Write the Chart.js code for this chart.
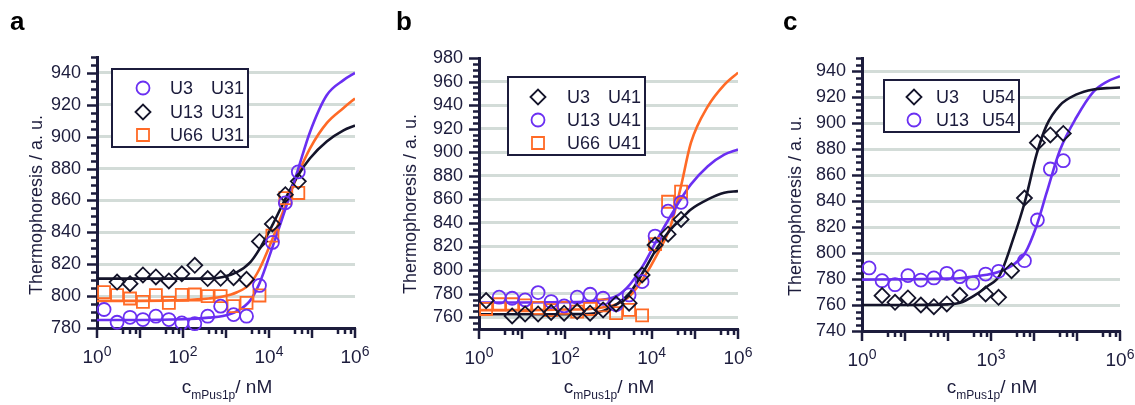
<!DOCTYPE html>
<html>
<head>
<meta charset="utf-8">
<script src="https://cdn.jsdelivr.net/npm/chart.js@4.4.1/dist/chart.umd.min.js"></script>
<style>
  body { margin: 0; background: #fff; font-family: 'Liberation Sans', Arial, sans-serif; color: #1c1c3c; }
  #wrap { position: relative; width: 1135px; height: 405px; overflow: hidden; }
  canvas { position: absolute; top: 0; }
  .panel { position: absolute; font-weight: bold; font-size: 26px; line-height: 30px; color: #000; }
  .ytitle { position: absolute; width: 260px; height: 22px; line-height: 22px; text-align: center;
            font-size: 18px; transform: rotate(-90deg); white-space: nowrap; }
  .xtitle { position: absolute; width: 200px; text-align: center; font-size: 19px; line-height: 22px; white-space: nowrap; }
  .xtitle sub { font-size: 12px; position: relative; top: 6px; vertical-align: baseline; }
</style>
</head>
<body>
<div id="wrap">
  <canvas id="ca" width="380" height="405" style="left:0"></canvas>
  <canvas id="cb" width="380" height="405" style="left:380px"></canvas>
  <canvas id="cc" width="375" height="405" style="left:760px"></canvas>

  <div class="panel" style="left:10px;top:6px">a</div>
  <div class="panel" style="left:396px;top:6px">b</div>
  <div class="panel" style="left:783px;top:6px">c</div>

  <div class="ytitle" style="left:-94px;top:194px">Thermophoresis / a. u.</div>
  <div class="ytitle" style="left:280px;top:193px">Thermophoresis / a. u.</div>
  <div class="ytitle" style="left:665px;top:195px">Thermophoresis / a. u.</div>

  <div class="xtitle" style="left:127px;top:376px">c<sub>mPus1p</sub>/ nM</div>
  <div class="xtitle" style="left:509px;top:376px">c<sub>mPus1p</sub>/ nM</div>
  <div class="xtitle" style="left:892px;top:376px">c<sub>mPus1p</sub>/ nM</div>
</div>

<script>
// titration concentrations of mPus1p (nM), 1:1 serial dilution
const conc = [1.46, 2.93, 5.86, 11.7, 23.4, 46.9, 93.8, 188, 375, 750, 1500, 3000, 6000, 12000, 24000, 48000];

// panel a: U31 substrates
const aU3  = [791.6, 783.6, 786.7, 785.3, 787.4, 785.3, 783.2, 782.7, 787.4, 793.7, 788.4, 787.4, 806.7, 833.7, 858.5, 878];
const aU13 = [null, 808.8, 807.8, 813.3, 812.0, 809.5, 814.0, 819.3, 811.0, 811.2, 811.6, 810.5, 834.3, 845.3, 863.6, 872];
const aU66 = [802.5, 800.6, 798.5, 796.4, 800.6, 795.8, 800.8, 801.0, 800, 800, 793.7, 795.8, 800.4, 838, 861.5, 864.7];

// panel b: U41 substrates
const bU3  = [774.1, null, 761.1, 762.8, 762.8, 764, 763.4, 764.8, 763.4, 766.2, 771.3, 771.9, 795.9, 821.3, 830.5, 843];
const bU13 = [null, 777, 776.1, 774.7, 780.9, 773.3, 769.6, 777, 779.5, 776.1, 770.5, 778.9, 790.2, 828.9, 850, 857.5];
const bU66 = [767, 771, 771, 770, 768, 766, 768, 764.8, 767, 770, 763.4, 766.2, 761.5, 822, 858, 866.5];

// panel c: U54 substrates
const cU3  = [null, 767.2, 762.1, 765.4, 760, 758.7, 760.8, 767.5, null, 768.5, 765.9, 786.4, 842.3, 884.9, 890.8, 892];
const cU13 = [788.5, 778.7, 775.6, 782.6, 779.2, 780.8, 784.4, 781.8, 776.9, 783.8, 785.9, null, 794.1, 825.4, 864.6, 871];

// fitted binding curves, sampled along the concentration axis
const fitXa = [1, 10, 100, 400, 850, 1800, 3600, 6000, 12500, 25000, 48000, 90000, 220000, 540000, 1000000];
const fitAU3  = [785, 785, 785.5, 786.5, 787.5, 790.6, 797, 808, 832, 856, 880, 903, 926, 935.5, 940];
const fitAU13 = [811, 811, 811, 811, 812, 815, 821, 829.5, 845.5, 862, 876, 886.5, 897, 904, 907];
const fitAU66 = [797, 797, 797.5, 798.5, 799.7, 802.4, 807.6, 817, 837, 858, 877, 892.7, 908.5, 918, 924];

const fitXb = [1, 10, 100, 380, 780, 1600, 3200, 6600, 13500, 27500, 47000, 81000, 200000, 480000, 1000000];
const fitBU3  = [762.5, 762.5, 762.6, 763, 765.6, 771.3, 781.1, 799.4, 819.1, 834.6, 843, 851.5, 860, 865.6, 867];
const fitBU13 = [772.5, 772.5, 772.8, 773.2, 775, 778.3, 788.2, 805, 826.2, 845.9, 860, 872.7, 888.2, 898, 902.3];
const fitBU66 = [766, 766, 766.5, 767, 768.5, 771.3, 778.3, 793.8, 813.5, 837.5, 870, 907.9, 938.9, 957.2, 967.6];

const fitXc = [1, 10, 100, 190, 390, 800, 1600, 3300, 6200, 11500, 19500, 40000, 98000, 240000, 490000, 1000000];
const fitCU3  = [760, 760, 760.5, 761.7, 766.9, 774.1, 783, 811, 840, 876, 898, 913.6, 922, 925.8, 926.8, 927.3];
const fitCU13 = [779.5, 779.8, 780.3, 780.6, 781.9, 783.2, 785.7, 791, 800, 821, 846, 879, 904.6, 924, 931.7, 936];

// axis labelling
const xExpAB = [0, 2, 4, 6];
const xExpC = [0, 3, 6];
const xMinorSteps = [4, 6, 8];

const ink = '#1c1c3c';
const purple = '#6a2ff2';
const orange = '#ff6a26';
const black = '#14142a';
const gridGrey = '#d3dcd8';
const font = "'Liberation Sans', Arial, sans-serif";

Chart.defaults.font.family = font;
Chart.defaults.color = ink;

const markerSize = { circle: 6.5, rectRot: 7.5, rect: 8.5 };

function drawMarker(ctx, style, x, y, r) {
  ctx.beginPath();
  if (style === 'circle') {
    ctx.arc(x, y, r, 0, Math.PI * 2);
  } else if (style === 'rectRot') {
    ctx.moveTo(x - r, y); ctx.lineTo(x, y - r); ctx.lineTo(x + r, y); ctx.lineTo(x, y + r); ctx.closePath();
  } else {
    const s = r * Math.SQRT1_2;
    ctx.rect(x - s, y - s, 2 * s, 2 * s);
  }
  ctx.stroke();
}

// tick marks, superscripted decade labels and the boxed legend
const decor = {
  id: 'decor',
  afterDraw(chart, args, opts) {
    const { ctx, chartArea: area, scales: { x, y } } = chart;
    ctx.save();
    ctx.strokeStyle = ink;
    ctx.lineWidth = 2.5;
    ctx.beginPath();
    for (let v = y.min; v <= y.max + 0.01; v += 5) {
      const py = Math.round(y.getPixelForValue(v)) + 0.5;
      const len = v % 20 === 0 ? 10 : 6;
      ctx.moveTo(area.left - len, py); ctx.lineTo(area.left, py);
    }
    for (let e = 0; e <= 6; e++) {
      const px = Math.round(x.getPixelForValue(Math.pow(10, e)));
      ctx.moveTo(px, area.bottom); ctx.lineTo(px, area.bottom + 10);
      if (e < 6) {
        xMinorSteps.forEach(k => {
          const pm = Math.round(x.getPixelForValue(k * Math.pow(10, e)));
          ctx.moveTo(pm, area.bottom); ctx.lineTo(pm, area.bottom + 6);
        });
      }
    }
    ctx.stroke();

    // decade labels: 10 with a raised exponent
    ctx.fillStyle = ink;
    ctx.textBaseline = 'alphabetic';
    ctx.textAlign = 'left';
    opts.xExp.forEach(e => {
      const px = x.getPixelForValue(Math.pow(10, e));
      ctx.font = '19px ' + font;
      const wBase = ctx.measureText('10').width;
      ctx.font = '14px ' + font;
      const wExp = ctx.measureText(String(e)).width;
      const left = px - (wBase + wExp) / 2;
      ctx.font = '19px ' + font;
      ctx.fillText('10', left, area.bottom + 35);
      ctx.font = '14px ' + font;
      ctx.fillText(String(e), left + wBase, area.bottom + 28);
    });

    // legend
    const lg = opts.legend;
    const [bx, by, bw, bh] = lg.box;
    ctx.fillStyle = '#fff';
    ctx.fillRect(bx, by, bw, bh);
    ctx.lineWidth = 2;
    ctx.strokeStyle = ink;
    ctx.strokeRect(bx, by, bw, bh);
    ctx.font = '18px ' + font;
    ctx.textBaseline = 'middle';
    const marks = chart.data.datasets.filter(d => !d.showLine);
    marks.forEach((d, i) => {
      const ry = lg.rows[i];
      ctx.strokeStyle = d.borderColor;
      ctx.lineWidth = 1.8;
      drawMarker(ctx, d.pointStyle, lg.markerX, ry, d.pointRadius);
      const parts = d.label.split(' ');
      ctx.fillStyle = ink;
      ctx.fillText(parts[0], lg.textX[0], ry + 1);
      ctx.fillText(parts[1], lg.textX[1], ry + 1);
    });
    ctx.restore();
  }
};

function pointsOf(xs, ys) {
  return xs.map((v, i) => ({ x: v, y: ys[i] })).filter(p => p.y !== null);
}

function makePanel(p) {
  const datasets = [];
  p.series.forEach(s => {
    datasets.push({
      label: s.label,
      data: pointsOf(conc, s.vals),
      showLine: false,
      pointStyle: s.style,
      pointRadius: markerSize[s.style],
      pointHoverRadius: markerSize[s.style],
      borderColor: s.color,
      backgroundColor: 'rgba(0,0,0,0)',
      pointBorderWidth: 1.8,
      clip: false
    });
  });
  p.series.forEach(s => {
    datasets.push({
      label: s.label + ' fit',
      data: pointsOf(s.fitX, s.fit),
      showLine: true,
      pointRadius: 0,
      borderColor: s.color,
      borderWidth: 2.6,
      cubicInterpolationMode: 'monotone'
    });
  });

  new Chart(document.getElementById(p.id), {
    type: 'scatter',
    data: { datasets },
    options: {
      responsive: false,
      animation: false,
      layout: { padding: { top: p.top, right: p.right, left: 0, bottom: 0 } },
      scales: {
        x: {
          type: 'logarithmic',
          min: 1,
          max: 1000000,
          ticks: { display: false },
          grid: { display: false, drawTicks: false },
          border: { color: ink, width: 3 },
          afterFit: sc => { sc.height = p.xHeight; }
        },
        y: {
          min: p.yMin,
          max: p.yMax,
          ticks: { stepSize: 20, includeBounds: false, padding: 16, font: { size: 18 }, color: ink },
          grid: {
            drawTicks: false,
            lineWidth: 3,
            color: c => (c.tick && (c.tick.value === p.yMin || c.tick.value === p.noGrid)) ? 'rgba(0,0,0,0)' : gridGrey
          },
          border: { color: ink, width: 3 },
          afterFit: sc => { sc.width = p.yWidth; }
        }
      },
      plugins: {
        legend: { display: false },
        tooltip: { enabled: false },
        decor: { xExp: p.xExp, legend: p.legend }
      }
    },
    plugins: [decor]
  });
}

makePanel({
  id: 'ca', yMin: 780, yMax: 950, noGrid: null, xExp: xExpAB,
  yWidth: 97, xHeight: 77, top: 57, right: 25,
  series: [
    { label: 'U3 U31', vals: aU3, fitX: fitXa, fit: fitAU3, color: purple, style: 'circle' },
    { label: 'U13 U31', vals: aU13, fitX: fitXa, fit: fitAU13, color: black, style: 'rectRot' },
    { label: 'U66 U31', vals: aU66, fitX: fitXa, fit: fitAU66, color: orange, style: 'rect' }
  ],
  legend: { box: [112, 69, 136, 78], markerX: 143, textX: [170, 211], rows: [88, 112, 135] }
});

makePanel({
  id: 'cb', yMin: 750, yMax: 980, noGrid: 980, xExp: xExpAB,
  yWidth: 99, xHeight: 76, top: 58, right: 22,
  series: [
    { label: 'U3 U41', vals: bU3, fitX: fitXb, fit: fitBU3, color: black, style: 'rectRot' },
    { label: 'U13 U41', vals: bU13, fitX: fitXb, fit: fitBU13, color: purple, style: 'circle' },
    { label: 'U66 U41', vals: bU66, fitX: fitXb, fit: fitBU66, color: orange, style: 'rect' }
  ],
  legend: { box: [128, 77, 137, 78], markerX: 158, textX: [187, 228], rows: [97, 120, 143] }
});

makePanel({
  id: 'cc', yMin: 740, yMax: 950, noGrid: null, xExp: xExpC,
  yWidth: 102, xHeight: 74, top: 58, right: 15,
  series: [
    { label: 'U3 U54', vals: cU3, fitX: fitXc, fit: fitCU3, color: black, style: 'rectRot' },
    { label: 'U13 U54', vals: cU13, fitX: fitXc, fit: fitCU13, color: purple, style: 'circle' }
  ],
  legend: { box: [124, 80, 135, 52], markerX: 154, textX: [176, 222], rows: [97, 120] }
});
</script>
</body>
</html>
